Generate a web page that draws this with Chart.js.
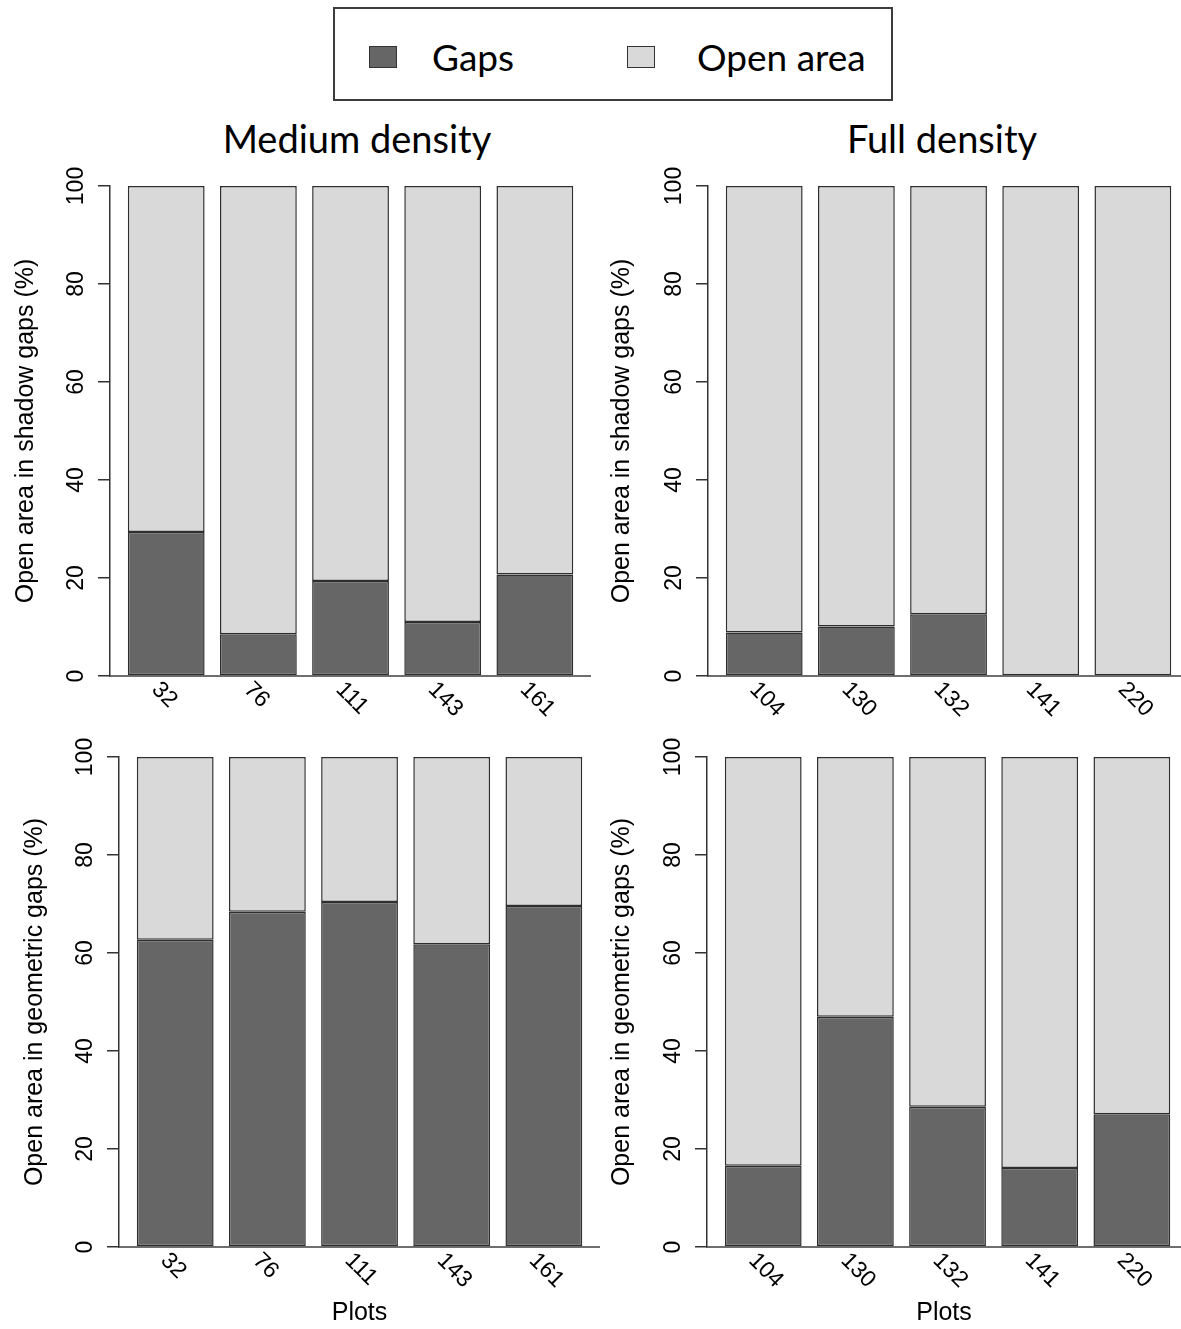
<!DOCTYPE html>
<html>
<head>
<meta charset="utf-8">
<script src="https://cdn.jsdelivr.net/npm/chart.js@4.4.0/dist/chart.umd.min.js"></script>
<style>
  body { margin: 0; background: #fff; width: 1181px; height: 1329px; position: relative; overflow: hidden; }
  canvas { position: absolute; }
  .legend { position: absolute; left: 333px; top: 7px; width: 556px; height: 90px; border: 2px solid #3c3c3c; }
  .sw { position: absolute; width: 26px; height: 20px; border: 1px solid #333; }
  .txt { position: absolute; font-family: Lato, sans-serif; font-size: 37px; line-height: 37px; color: #000; white-space: nowrap; }
  .title { font-size: 38px; line-height: 38px; }
</style>
</head>
<body>
<div class="legend"></div>
<div class="sw" style="left:369px;top:46px;background:#666666"></div>
<div class="txt" style="left:432px;top:38px">Gaps</div>
<div class="sw" style="left:627px;top:46px;background:#d9d9d9"></div>
<div class="txt" style="left:697px;top:38px">Open area</div>
<div class="txt title" style="left:157px;top:119px;width:400px;text-align:center">Medium density</div>
<div class="txt title" style="left:742px;top:119px;width:400px;text-align:center">Full density</div>

<canvas id="tl"></canvas>
<canvas id="tr"></canvas>
<canvas id="bl"></canvas>
<canvas id="br"></canvas>

<script>
// plot ids
const medPlots = ['32', '76', '111', '143', '161'];
const fullPlots = ['104', '130', '132', '141', '220'];

// open area in shadow gaps (%)
const medShadowGaps = [29.4, 8.5, 19.4, 11.0, 20.7];
const medShadowOpen = [70.6, 91.5, 80.6, 89.0, 79.3];
const fullShadowGaps = [8.9, 10.1, 12.6, 0, 0];
const fullShadowOpen = [91.1, 89.9, 87.4, 100, 100];

// open area in geometric gaps (%)
const medGeomGaps = [62.7, 68.4, 70.4, 61.8, 69.6];
const medGeomOpen = [37.3, 31.6, 29.6, 38.2, 30.4];
const fullGeomGaps = [16.6, 47.0, 28.6, 16.1, 27.1];
const fullGeomOpen = [83.4, 53.0, 71.4, 83.9, 72.9];

const yTicks = [0, 20, 40, 60, 80, 100];

const FONT = '"Liberation Sans", Arial, sans-serif';
const UNIT = 76.8;       // px per bar width (R barplot units)
const XMIN = -0.032;

// R barplot puts bar i at 0.2 + 1.2*i .. 1.2 + 1.2*i
const barPos = i => 0.7 + 1.2 * i;

// draws the R style rotated tick labels
const rLabels = {
  id: 'rLabels',
  afterDraw(chart, args, o) {
    const { ctx, scales: { x, y } } = chart;
    ctx.save();
    ctx.fillStyle = '#000';
    ctx.font = '23px ' + FONT;
    ctx.textAlign = 'center';
    ctx.textBaseline = 'alphabetic';
    y.ticks.forEach(t => {
      ctx.save();
      ctx.translate(x.left - 27, y.getPixelForValue(t.value));
      ctx.rotate(-Math.PI / 2);
      ctx.fillText(String(t.value), 0, 0);
      ctx.restore();
    });
    ctx.textAlign = 'left';
    ctx.textBaseline = 'middle';
    x.ticks.forEach((t, i) => {
      ctx.save();
      ctx.translate(x.getPixelForValue(t.value) - 11, y.bottom + 10);
      ctx.rotate(Math.PI / 4);
      ctx.fillText(o.labels[i], 0, 0);
      ctx.restore();
    });
    ctx.restore();
  }
};

function makePanel(id, box, area, plots, gaps, open, yTitle, yTitleX, xTitleY) {
  const canvas = document.getElementById(id);
  canvas.width = box.width;
  canvas.height = box.height;
  canvas.style.left = box.left + 'px';
  canvas.style.top = box.top + 'px';

  const boxBottom = box.top + box.height;
  const yPadTop = yTitleX - box.left - 15;
  const yPadBottom = (area.left - box.left) - 12 - 30 - yPadTop;
  let xTitle = { display: false };
  if (xTitleY) {
    const pb = boxBottom - xTitleY - 15;
    xTitle = {
      display: true, text: 'Plots', color: '#000',
      font: { family: FONT, size: 25 },
      padding: { top: boxBottom - area.bottom - 30 - pb, bottom: pb }
    };
  }
  const xmax = XMIN + (box.left + box.width - area.left) / UNIT;
  const positions = plots.map((_, i) => barPos(i));

  const barStyle = {
    borderColor: '#2e2e2e', borderWidth: 1.5, borderSkipped: false,
    stack: 's', barPercentage: 1 / 1.2, categoryPercentage: 1
  };

  return new Chart(canvas, {
    type: 'bar',
    data: {
      datasets: [
        { label: 'Gaps', data: gaps.map((v, i) => ({ x: positions[i], y: v })), backgroundColor: '#666666', ...barStyle },
        { label: 'Open area', data: open.map((v, i) => ({ x: positions[i], y: v })), backgroundColor: '#d9d9d9', ...barStyle }
      ]
    },
    options: {
      responsive: false,
      animation: false,
      events: [],
      layout: {
        padding: {
          left: 0, right: 0,
          top: area.top - box.top,
          bottom: xTitleY ? 0 : boxBottom - area.bottom
        }
      },
      plugins: {
        legend: { display: false },
        tooltip: { enabled: false },
        rLabels: { labels: plots }
      },
      scales: {
        x: {
          type: 'linear', min: XMIN, max: xmax, offset: false,
          afterBuildTicks: s => { s.ticks = positions.map(v => ({ value: v })); },
          ticks: { display: false },
          grid: { display: false, drawTicks: false, offset: false },
          border: { display: true, color: '#6e6e6e', width: 2 },
          title: xTitle
        },
        y: {
          min: 0, max: 100, stacked: true,
          afterBuildTicks: s => { s.ticks = yTicks.map(v => ({ value: v })); },
          ticks: { display: false },
          grid: { display: true, drawOnChartArea: false, drawTicks: true, tickLength: 12, color: '#333', lineWidth: 1.5 },
          border: { display: true, color: '#333', width: 1.5 },
          title: {
            display: true, text: yTitle, color: '#000',
            font: { family: FONT, size: 25 },
            padding: { top: yPadTop, bottom: yPadBottom }
          }
        }
      }
    },
    plugins: [rLabels]
  });
}

makePanel('tl', { left: 0, top: 110, width: 591, height: 620 }, { left: 110, top: 186, bottom: 676 },
  medPlots, medShadowGaps, medShadowOpen, 'Open area in shadow gaps (%)', 26);
makePanel('tr', { left: 591, top: 110, width: 590, height: 620 }, { left: 708, top: 186, bottom: 676 },
  fullPlots, fullShadowGaps, fullShadowOpen, 'Open area in shadow gaps (%)', 622);
makePanel('bl', { left: 0, top: 720, width: 600, height: 609 }, { left: 119, top: 757, bottom: 1247 },
  medPlots, medGeomGaps, medGeomOpen, 'Open area in geometric gaps (%)', 35, 1313);
makePanel('br', { left: 600, top: 720, width: 581, height: 609 }, { left: 707, top: 757, bottom: 1247 },
  fullPlots, fullGeomGaps, fullGeomOpen, 'Open area in geometric gaps (%)', 622, 1313);
</script>
</body>
</html>
